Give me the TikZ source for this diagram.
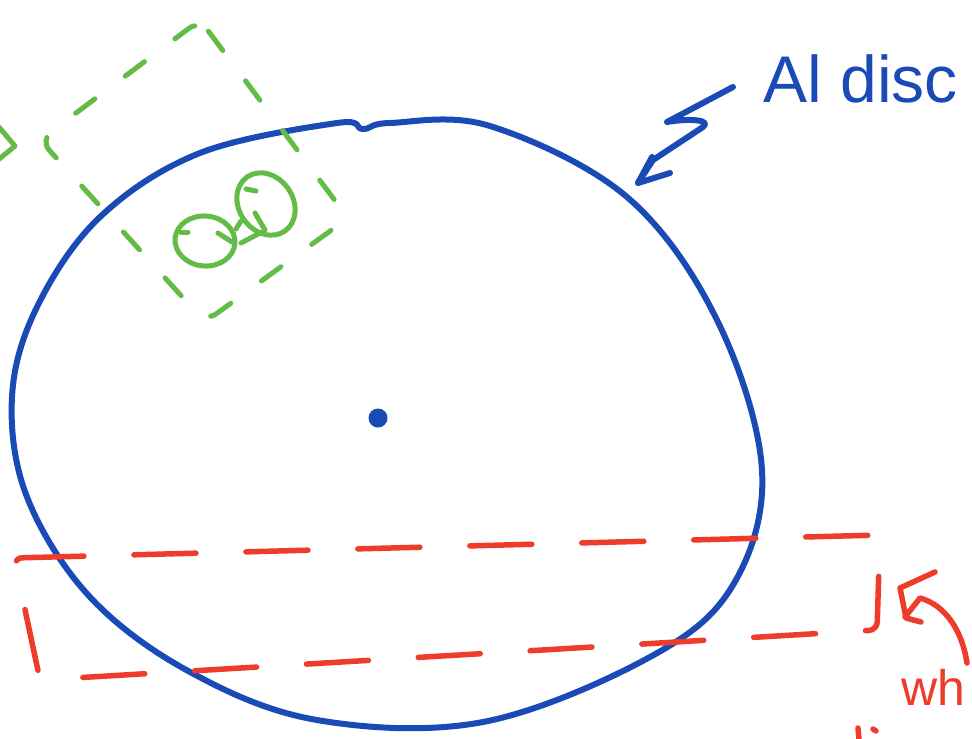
\documentclass[tikz,border=0pt]{standalone}
\usepackage{fontspec}
\setmainfont{Liberation Sans}
\usetikzlibrary{shapes.geometric}
\definecolor{discblue}{HTML}{1A4AB5}
\definecolor{markgreen}{HTML}{62BC46}
\definecolor{markred}{HTML}{EE3B2A}
\tikzset{
  pen/.style={line width=6pt, line cap=round, line join=round},
  bluepen/.style={pen, draw=discblue},
  greenpen/.style={pen, line width=5pt, draw=markgreen},
  redpen/.style={pen, line width=5.5pt, draw=markred},
  greendash/.style={greenpen, dash pattern=on 24pt off 38pt},
  reddash/.style={redpen, dash pattern=on 62pt off 50pt},
}
\begin{document}
\begin{tikzpicture}[x=1pt,y=-1pt]
\clip (0,0) rectangle (972,739);
\fill[white] (0,0) rectangle (972,739);

% Al disc outline
\draw[bluepen] plot[smooth cycle, tension=0.6] coordinates {
 (363,129) (390,123) (490,126) (627,197) (717,320) (762,470) (733,585)
 (650,657) (483,722) (317,720) (190,672) (90,597) (27,497) (12,397)
 (37,307) (100,217) (200,153) (337,123)};

% centre dot
\node[circle, fill=discblue, inner sep=0pt, minimum size=19pt] (centre) at (378,418) {};

% label and zigzag arrow
\node[text=discblue, font=\fontsize{66}{72}\selectfont, anchor=base west] (label) at (760,102) {Al disc};
\coordinate (z0) at (733,87);
\coordinate (z1) at (667,122);
\coordinate (z2) at (703,127);
\coordinate (z3) at (653,160);
\coordinate (tip) at (638,183);
\coordinate (h1) at (652,157);
\coordinate (h2) at (670,173);
\draw[bluepen] (z0) -- (z1) .. controls (690,118) and (712,120) .. (z2) -- (z3) -- (tip);
\draw[bluepen] (h1) -- (tip) -- (h2);

% green dashed box
\coordinate (gT) at (200,20);
\coordinate (gR) at (348,218);
\coordinate (gB) at (205,322);
\coordinate (gL) at (40,140);
\draw[greendash, rounded corners=14pt] (gT) -- (gR) -- (gB) -- (gL) -- cycle;

% green chevron at left edge
\coordinate (c0) at (-2,126);
\coordinate (c1) at (15,146);
\coordinate (c2) at (-2,160);
\draw[greenpen] (c0) -- (c1) -- (c2);

% green loops
\node[ellipse, draw=markgreen, line width=5pt, minimum width=60pt, minimum height=50pt, inner sep=0pt, rotate=-5] (loopA) at (205,241) {};
\node[ellipse, draw=markgreen, line width=5pt, minimum width=54pt, minimum height=66pt, inner sep=0pt, rotate=35] (loopB) at (266,204) {};
\draw[greenpen] (218,233) -- (232,242);
\draw[greenpen] (255,213) -- (265,230);
\draw[greenpen] (181,232) -- (188,232);
\draw[greenpen] (246,189) -- (256,191);
\draw[greenpen] (236,229) -- (241,221);
\draw[greenpen] (241,243) -- (262,232);

% red dashed box
\coordinate (rTL) at (14,558);
\coordinate (rTR) at (880,535);
\coordinate (rBR) at (877,630);
\coordinate (rBL) at (40,680);
\draw[reddash, rounded corners=8pt] (rTL) -- (rTR) -- (rBR) -- (rBL) -- cycle;

% red arrow and partial word
\coordinate (a0) at (967,663);
\coordinate (a1) at (920,598);
\coordinate (a2) at (905,617);
\draw[redpen] (a0) .. controls (962,630) and (945,605) .. (a1) -- (a2);
\draw[redpen] (935,572) -- (900,588) -- (906,618) -- (921,622);
\node[text=markred, font=\fontsize{50}{56}\selectfont, anchor=base west] (word) at (898,705) {wh};
\draw[redpen] (858,728) -- (859,739);
\draw[redpen] (873,729) -- (876,731);
\end{tikzpicture}
\end{document}
